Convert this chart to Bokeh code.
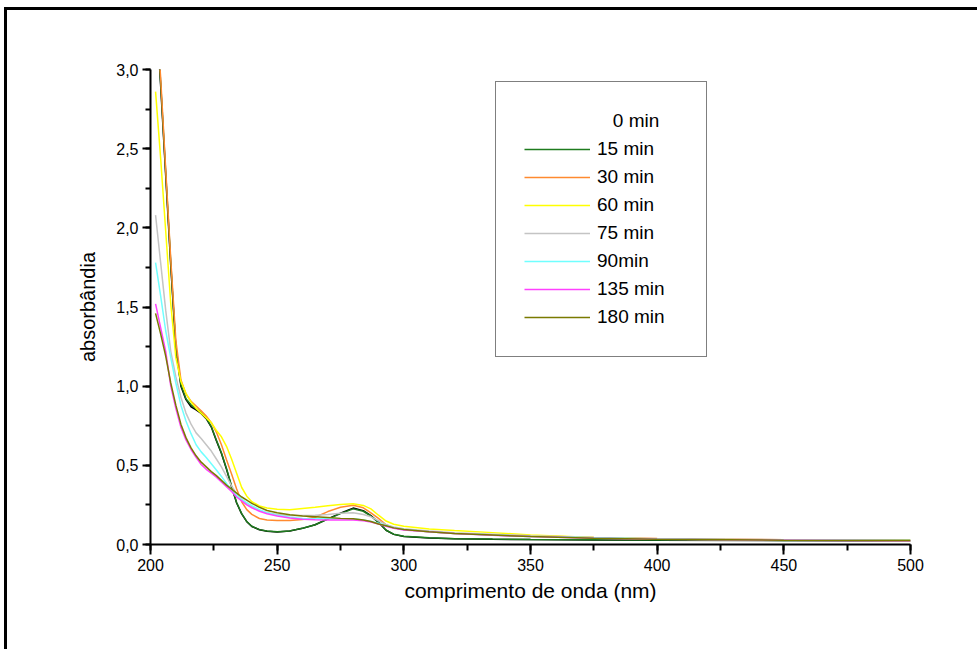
from bokeh.plotting import figure
from bokeh.models import (SingleIntervalTicker, CustomJSTickFormatter, Legend,
                          LegendItem, Range1d)
from bokeh.embed import file_html
from bokeh.resources import INLINE

# UV-Vis spectra: wavelength (nm) and absorbance per irradiation time
wavelength = [202, 204, 206, 208, 210, 212, 214, 216, 218, 220, 222, 224, 226, 228,
              230, 232, 234, 236, 238, 240, 243, 246, 250, 255, 260, 265, 270, 275,
              280, 284, 287, 290, 293, 296, 300, 310, 320, 335, 350, 375, 400, 450, 500]

abs_0min = [3.42, 2.90, 2.33, 1.76, 1.24, 1.00, 0.915, 0.870, 0.850, 0.828, 0.795, 0.742,
            0.655, 0.575, 0.475, 0.365, 0.262, 0.193, 0.144, 0.114, 0.093, 0.084, 0.079,
            0.085, 0.102, 0.125, 0.162, 0.198, 0.230, 0.214, 0.182, 0.140, 0.090, 0.064,
            0.051, 0.041, 0.036, 0.033, 0.031, 0.029, 0.027, 0.025, 0.024]
abs_15min = [3.43, 2.92, 2.35, 1.78, 1.25, 1.01, 0.920, 0.882, 0.858, 0.834, 0.800, 0.745,
             0.660, 0.580, 0.480, 0.370, 0.265, 0.195, 0.145, 0.115, 0.094, 0.085, 0.080,
             0.086, 0.103, 0.125, 0.160, 0.195, 0.225, 0.210, 0.180, 0.140, 0.090, 0.065,
             0.052, 0.042, 0.037, 0.034, 0.032, 0.030, 0.028, 0.026, 0.025]
abs_30min = [3.40, 2.95, 2.37, 1.80, 1.29, 1.04, 0.950, 0.905, 0.875, 0.845, 0.812, 0.770,
             0.710, 0.630, 0.535, 0.445, 0.350, 0.270, 0.220, 0.190, 0.164, 0.155, 0.151,
             0.152, 0.158, 0.172, 0.208, 0.235, 0.248, 0.232, 0.200, 0.165, 0.125, 0.105,
             0.095, 0.080, 0.070, 0.062, 0.055, 0.045, 0.038, 0.030, 0.026]
abs_60min = [2.86, 2.44, 1.98, 1.52, 1.18, 1.03, 0.955, 0.900, 0.860, 0.830, 0.800, 0.770,
             0.720, 0.680, 0.620, 0.540, 0.450, 0.360, 0.305, 0.270, 0.243, 0.230, 0.222,
             0.220, 0.228, 0.236, 0.245, 0.253, 0.258, 0.247, 0.225, 0.185, 0.148, 0.128,
             0.115, 0.098, 0.088, 0.075, 0.060, 0.045, 0.035, 0.028, 0.026]
abs_75min = [2.08, 1.78, 1.48, 1.22, 1.06, 0.930, 0.830, 0.760, 0.705, 0.670, 0.630, 0.590,
             0.540, 0.490, 0.430, 0.370, 0.320, 0.285, 0.260, 0.240, 0.215, 0.200, 0.190,
             0.183, 0.183, 0.185, 0.190, 0.198, 0.200, 0.190, 0.175, 0.150, 0.125, 0.110,
             0.100, 0.085, 0.075, 0.065, 0.055, 0.045, 0.037, 0.030, 0.026]
abs_90min = [1.78, 1.57, 1.35, 1.18, 1.02, 0.880, 0.780, 0.700, 0.630, 0.585, 0.550, 0.510,
             0.470, 0.430, 0.385, 0.345, 0.310, 0.285, 0.265, 0.245, 0.220, 0.200, 0.185,
             0.172, 0.165, 0.162, 0.162, 0.162, 0.162, 0.155, 0.145, 0.135, 0.120, 0.105,
             0.095, 0.080, 0.070, 0.060, 0.050, 0.042, 0.035, 0.028, 0.025]
abs_135min = [1.52, 1.37, 1.22, 1.00, 0.860, 0.740, 0.660, 0.600, 0.550, 0.505, 0.475, 0.450,
              0.425, 0.395, 0.365, 0.335, 0.300, 0.275, 0.250, 0.232, 0.210, 0.194, 0.180,
              0.168, 0.160, 0.156, 0.155, 0.155, 0.155, 0.150, 0.142, 0.130, 0.115, 0.102,
              0.092, 0.080, 0.070, 0.058, 0.050, 0.040, 0.033, 0.027, 0.024]
abs_180min = [1.46, 1.33, 1.19, 1.02, 0.880, 0.760, 0.675, 0.610, 0.560, 0.520, 0.490, 0.460,
              0.435, 0.405, 0.375, 0.350, 0.325, 0.300, 0.280, 0.260, 0.235, 0.215, 0.200,
              0.188, 0.180, 0.175, 0.170, 0.165, 0.162, 0.155, 0.145, 0.130, 0.118, 0.105,
              0.095, 0.080, 0.070, 0.060, 0.050, 0.040, 0.033, 0.027, 0.025]

series_labels = ["\u00a0\u00a0\u00a00 min", "15 min", "30 min", "60 min", "75 min",
                 "90min", "135 min", "180 min"]
series_values = [abs_0min, abs_15min, abs_30min, abs_60min, abs_75min,
                 abs_90min, abs_135min, abs_180min]
series_colors = ["#000000", "#1E7B1E", "#FF8A30", "#FFFF00", "#C4C4C4",
                 "#70FFFF", "#FF40FF", "#7A7A00"]

x_ticks_interval = 50
y_ticks_interval = 0.5

FONT = "Liberation Sans"

p = figure(width=977, height=649, output_backend="svg", toolbar_location=None,
           x_range=Range1d(200, 500), y_range=Range1d(0, 3.0),
           min_border_left=150, min_border_right=67,
           min_border_top=69, min_border_bottom=105,
           background_fill_color="white",
           border_fill_color="white", border_fill_alpha=0)
# page frame: top and left strips painted behind the (transparent) canvas border
p.styles = {
    "background": "linear-gradient(#000, #000) 4px 7px / 100% 3px no-repeat, "
                  "linear-gradient(#000, #000) 4px 7px / 3px 100% no-repeat, #ffffff"
}
p.outline_line_color = None
p.xgrid.visible = False
p.ygrid.visible = False

# Axes: only left and bottom lines, outward ticks with one minor tick between majors
for ax in (p.xaxis[0], p.yaxis[0]):
    ax.axis_line_width = 2
    ax.axis_line_color = "black"
    ax.major_tick_line_width = 2
    ax.minor_tick_line_width = 2
    ax.major_tick_in = 0
    ax.minor_tick_in = 0
    ax.major_label_text_font = FONT
    ax.major_label_text_font_size = "16px"
    ax.major_label_text_color = "black"
    ax.axis_label_text_font = FONT
    ax.axis_label_text_font_style = "normal"
    ax.axis_label_text_color = "black"

p.xaxis.ticker = SingleIntervalTicker(interval=x_ticks_interval, num_minor_ticks=2)
p.xaxis.major_tick_out = 10
p.xaxis.minor_tick_out = 6
p.xaxis.major_label_standoff = 4
p.xaxis.axis_label = "comprimento de onda (nm)"
p.xaxis.axis_label_text_font_size = "21px"
p.xaxis.axis_label_standoff = 5

p.yaxis.ticker = SingleIntervalTicker(interval=y_ticks_interval, num_minor_ticks=2)
p.yaxis.formatter = CustomJSTickFormatter(code="return tick.toFixed(1).replace('.', ',');")
p.yaxis.major_tick_out = 8
p.yaxis.minor_tick_out = 5
p.yaxis.major_label_standoff = 4
p.yaxis.axis_label = "absorbândia"
p.yaxis.axis_label_text_font_size = "20px"
p.yaxis.axis_label_standoff = 14

renderers = []
for vals, col in zip(series_values, series_colors):
    r = p.line(wavelength, vals, line_color=col, line_width=1.5)
    renderers.append(r)

# Legend: the first entry is listed without a line sample
blank = p.line([], [], line_alpha=0)
items = [LegendItem(label=series_labels[0], renderers=[blank])]
for lab, r in zip(series_labels[1:], renderers[1:]):
    items.append(LegendItem(label=lab, renderers=[r]))

legend = Legend(items=items, location=(345, 187),
                padding=28, spacing=6, glyph_width=66, glyph_height=20,
                label_height=20, label_width=81, label_standoff=7,
                label_text_font=FONT, label_text_font_size="19px",
                label_text_color="black",
                border_line_color="black", border_line_width=1,
                background_fill_color="white", background_fill_alpha=1)
p.add_layout(legend)

open("out.html", "w").write(file_html(p, INLINE))
